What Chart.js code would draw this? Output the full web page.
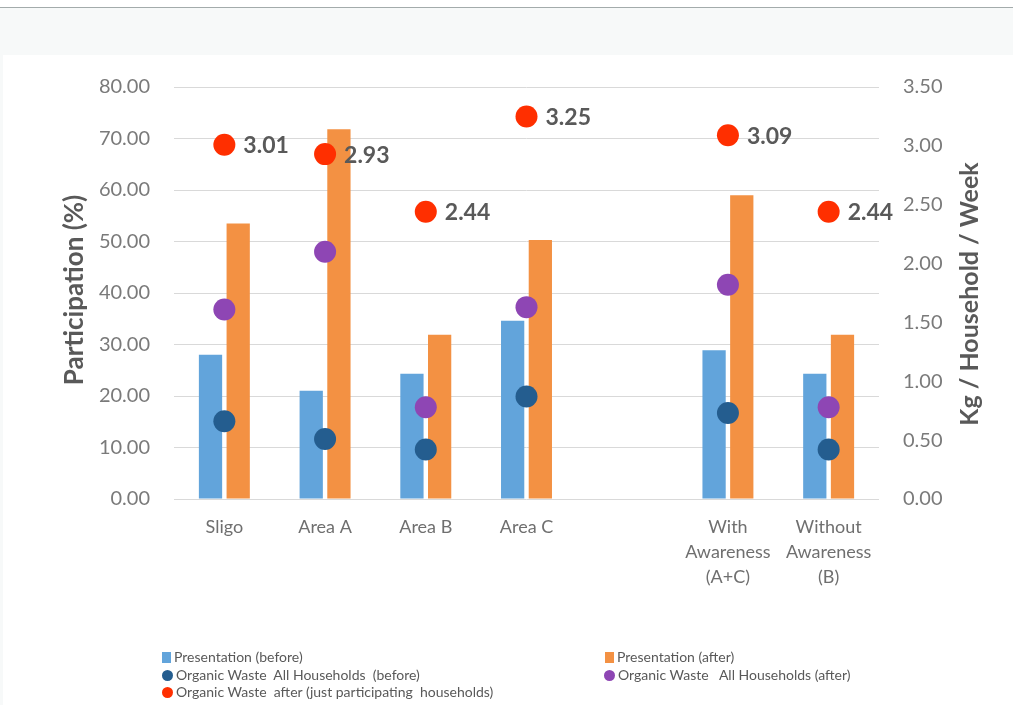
<!DOCTYPE html>
<html lang="en">
<head>
    <meta charset="UTF-8">
    <title>Participation and Organic Waste</title>
    <script src="https://cdn.jsdelivr.net/npm/chart.js@4.4.0/dist/chart.umd.min.js"></script>
    <style>
        body {
            margin: 0;
            background: #ffffff;
            font-family: Lato, sans-serif;
        }

        .page {
            position: relative;
            width: 1013px;
            height: 705px;
            overflow: hidden;
        }

        .top-line {
            position: absolute;
            left: 0; top: 7px;
            width: 1013px; height: 1px;
            background: #a3abab;
        }

        .band {
            position: absolute;
            left: 0; top: 8px;
            width: 1013px; height: 47px;
            background: #f7f9f9;
        }

        .strip {
            position: absolute;
            left: 0; top: 55px;
            width: 3px; height: 650px;
            background: #f7f9f9;
        }

        canvas {
            position: absolute;
            left: 0; top: 0;
        }

        .legend-item {
            position: absolute;
            font-size: 14px;
            color: #595959;
            white-space: pre;
            line-height: 16px;
        }

        .legend-item i {
            display: inline-block;
            vertical-align: -1px;
            margin-right: 3px;
        }

        .sq { width: 9px; height: 11px; }
        .dot { width: 11px; height: 11px; border-radius: 50%; }
    </style>
</head>
<body>
    <div class="page">
        <div class="top-line"></div>
        <div class="band"></div>
        <div class="strip"></div>
        <canvas id="chart" width="1013" height="705"></canvas>
        <div id="legend"></div>
    </div>

    <script>
        const categories = ['Sligo', 'Area A', 'Area B', 'Area C', '', ['With', 'Awareness', '(A+C)'], ['Without', 'Awareness', '(B)']];

        // Participation (%) - left axis
        const presentationBefore = [28.0, 21.0, 24.3, 34.6, null, 28.9, 24.3];
        const presentationAfter = [53.5, 71.8, 31.9, 50.3, null, 59.0, 31.9];

        // Kg / Household / Week - right axis
        const wasteAllBefore = [0.66, 0.51, 0.42, 0.87, null, 0.73, 0.42];
        const wasteAllAfter = [1.61, 2.10, 0.78, 1.63, null, 1.82, 0.78];
        const wasteParticipating = [3.01, 2.93, 2.44, 3.25, null, 3.09, 2.44];

        const leftTicks = [0, 10, 20, 30, 40, 50, 60, 70, 80];
        const rightTicks = [0, 0.5, 1, 1.5, 2, 2.5, 3, 3.5];

        const colors = {
            before: '#62a4db',
            after: '#f39143',
            allBefore: '#245d8f',
            allAfter: '#8e46b4',
            participating: '#ff2f00'
        };

        const legendItems = [
            { text: 'Presentation (before)', color: colors.before, shape: 'sq', x: 162, y: 649 },
            { text: 'Organic Waste  All Households  (before)', color: colors.allBefore, shape: 'dot', x: 162, y: 667 },
            { text: 'Organic Waste  after (just participating  households)', color: colors.participating, shape: 'dot', x: 162, y: 684 },
            { text: 'Presentation (after)', color: colors.after, shape: 'sq', x: 605, y: 649 },
            { text: 'Organic Waste   All Households (after)', color: colors.allAfter, shape: 'dot', x: 604, y: 667 }
        ];

        // value labels next to the red points + axis titles
        const extrasPlugin = {
            id: 'extras',
            afterDatasetsDraw(chart) {
                const ctx = chart.ctx;
                const meta = chart.getDatasetMeta(2);
                ctx.save();
                ctx.font = 'bold 23px Lato';
                ctx.fillStyle = '#595959';
                ctx.textAlign = 'left';
                ctx.textBaseline = 'middle';
                meta.data.forEach((pt, i) => {
                    const v = wasteParticipating[i];
                    if (v == null) return;
                    ctx.fillText(v.toFixed(2), pt.x + 19, pt.y + 1);
                });
                ctx.restore();
            },
            afterDraw(chart) {
                const ctx = chart.ctx;
                const area = chart.chartArea;
                const midY = (area.top + area.bottom) / 2;
                ctx.save();
                ctx.font = 'bold 26px Lato';
                ctx.fillStyle = '#595959';
                ctx.textAlign = 'center';
                ctx.textBaseline = 'middle';
                ctx.translate(75, midY - 3);
                ctx.rotate(-Math.PI / 2);
                ctx.fillText('Participation (%)', 0, 0);
                ctx.restore();

                ctx.save();
                ctx.font = 'bold 25px Lato';
                ctx.fillStyle = '#595959';
                ctx.textAlign = 'center';
                ctx.textBaseline = 'middle';
                ctx.translate(970, midY + 1);
                ctx.rotate(-Math.PI / 2);
                ctx.fillText('Kg / Household / Week', 0, 0);
                ctx.restore();
            }
        };

        function pointSet(label, data, color) {
            return {
                type: 'line',
                label: label,
                data: data,
                yAxisID: 'y1',
                showLine: false,
                pointRadius: 11,
                pointHoverRadius: 11,
                pointBackgroundColor: color,
                pointBorderColor: color,
                pointBorderWidth: 0,
                order: 1
            };
        }

        new Chart(document.getElementById('chart'), {
            type: 'bar',
            data: {
                labels: categories,
                datasets: [
                    pointSet('Organic Waste All Households (before)', wasteAllBefore, colors.allBefore),
                    pointSet('Organic Waste All Households (after)', wasteAllAfter, colors.allAfter),
                    pointSet('Organic Waste after (just participating households)', wasteParticipating, colors.participating),
                    {
                        label: 'Presentation (before)',
                        data: presentationBefore,
                        backgroundColor: colors.before,
                        yAxisID: 'y',
                        categoryPercentage: 0.55,
                        barPercentage: 0.84,
                        order: 2
                    },
                    {
                        label: 'Presentation (after)',
                        data: presentationAfter,
                        backgroundColor: colors.after,
                        yAxisID: 'y',
                        categoryPercentage: 0.55,
                        barPercentage: 0.84,
                        order: 2
                    }
                ]
            },
            options: {
                responsive: false,
                animation: false,
                layout: { padding: { top: 87, left: 0, right: 0, bottom: 0 } },
                plugins: {
                    legend: { display: false },
                    tooltip: { enabled: false }
                },
                scales: {
                    x: {
                        grid: { display: false },
                        border: { display: false },
                        ticks: {
                            color: '#6f6f6f',
                            font: { family: 'Lato', size: 18, lineHeight: 1.39 },
                            padding: 8,
                            maxRotation: 0,
                            autoSkip: false
                        },
                        afterFit(scale) { scale.height = 206; }
                    },
                    y: {
                        position: 'left',
                        min: 0,
                        max: 80,
                        afterBuildTicks(scale) { scale.ticks = leftTicks.map(v => ({ value: v })); },
                        grid: { color: '#d9d9d9', lineWidth: 1, drawTicks: false },
                        border: { display: false },
                        ticks: {
                            color: '#7a7a7a',
                            font: { family: 'Lato', size: 20 },
                            padding: 24,
                            callback: v => v.toFixed(2)
                        },
                        afterFit(scale) { scale.width = 174; }
                    },
                    y1: {
                        position: 'right',
                        min: 0,
                        max: 3.5,
                        afterBuildTicks(scale) { scale.ticks = rightTicks.map(v => ({ value: v })); },
                        grid: { display: false, drawTicks: false },
                        border: { display: false },
                        ticks: {
                            color: '#7a7a7a',
                            font: { family: 'Lato', size: 20 },
                            padding: 24,
                            callback: v => v.toFixed(2)
                        },
                        afterFit(scale) { scale.width = 134; }
                    }
                }
            },
            plugins: [extrasPlugin]
        });

        // legend in two columns, as in the original
        const legend = document.getElementById('legend');
        legendItems.forEach(item => {
            const div = document.createElement('div');
            div.className = 'legend-item';
            div.style.left = item.x + 'px';
            div.style.top = item.y + 'px';
            div.innerHTML = '<i class="' + item.shape + '" style="background:' + item.color + '"></i>' + item.text;
            legend.appendChild(div);
        });
    </script>
</body>
</html>
